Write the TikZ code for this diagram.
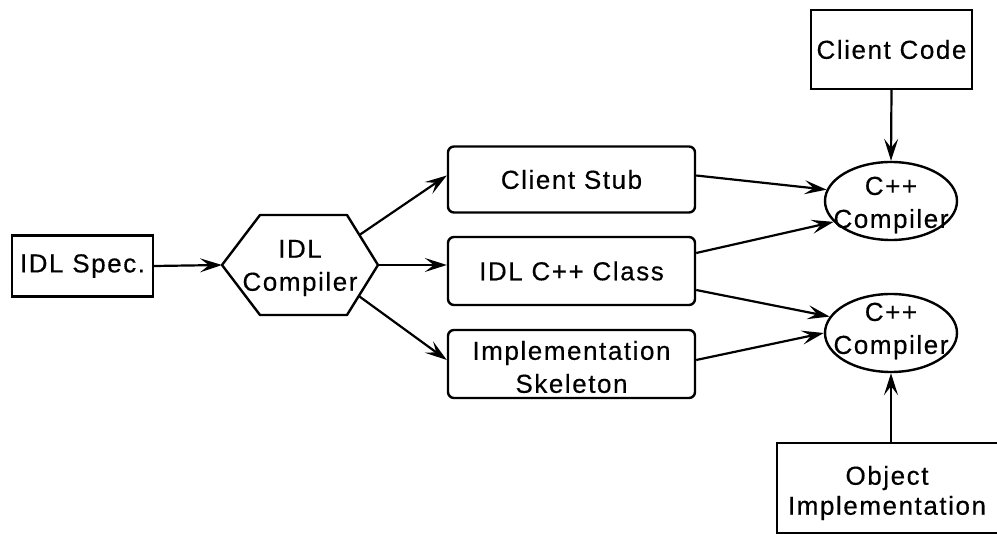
\documentclass[tikz,border=0pt]{standalone}
\usepackage{fontspec}
\newfontfamily\diagfont[LetterSpace=6,FakeBold=0.4]{Liberation Sans}
\usetikzlibrary{shapes.geometric,arrows.meta,calc}

\begin{document}
\begin{tikzpicture}[x=1pt,y=-1pt,
  lab/.style={font=\diagfont\fontsize{26}{33}\selectfont, align=center, inner sep=0pt},
  box/.style={draw, line width=2.4pt, inner sep=0pt, lab},
  rbox/.style={box, rounded corners=6pt, minimum width=247pt},
  oval/.style={draw, ellipse, line width=2.4pt, inner sep=0pt,
               minimum width=132pt, minimum height=78pt},
  arr/.style={line width=2.2pt, -{Stealth[length=22pt,width=14pt,inset=9pt]}},
]
\useasboundingbox (0,0) rectangle (997,534);
\clip (0,0) rectangle (997,534);

% input specification
\node[box, minimum width=141pt, minimum height=61pt] (spec) at (82.5,266) {IDL Spec.};

% IDL compiler hexagon
\coordinate (hw)  at (222,265);
\coordinate (hnw) at (260,215);
\coordinate (hne) at (347,215);
\coordinate (he)  at (378,265);
\coordinate (hse) at (347,315);
\coordinate (hsw) at (260,315);
\draw[line width=2.4pt, line join=round] (hw) -- (hnw) -- (hne) -- (he) -- (hse) -- (hsw) -- cycle;
\node[lab] (hex) at (300,268) {IDL\\Compiler};

% generated artefacts
\node[rbox, minimum height=66pt] (stub)  at (571.5,179.5) {Client Stub};
\node[rbox, minimum height=68pt] (class) at (571.5,271) {IDL C++ Class};
\node[rbox, minimum height=68pt] (impl)  at (571.5,364) {};
\node[lab] (implt) at (571.5,367) {Implementation\\Skeleton};

% compilers
\node[oval] (cc1) at (891,201) {};
\node[lab] (cc1t) at (891,205) {C++\\Compiler};
\node[oval] (cc2) at (891,333) {};
\node[lab] (cc2t) at (891,331) {C++\\Compiler};

% user supplied code
\node[box, minimum width=161pt, minimum height=79pt] (ccode) at (891.5,49.5) {Client Code};
\node[box, minimum width=223pt, minimum height=90pt] (obj) at (888.5,488) {};
\node[lab] (objt) at (887,493) {Object\\[-3pt]Implementation};

% connectors
\draw[arr] (spec.east) -- (hw);
\draw[arr] ($(hne)!0.4!(he)$) -- ($(stub.west)+(0,-4)$);
\draw[arr] (he) -- (he -| class.west);
\draw[arr] ($(he)!0.62!(hse)$) -- ($(impl.west)+(0,-4)$);

\draw[arr] ($(stub.east)+(0,-4)$) -- (cc1.170);
\draw[arr] ($(class.east)+(0,-18)$) -- (cc1.200);
\draw[arr] ($(class.east)+(0,19)$) -- (cc2.165);
\draw[arr] ($(impl.east)+(0,-4)$) -- (cc2.180);

\draw[arr] (ccode.south) -- (cc1.north);
\draw[arr] (cc2.south |- obj.north) -- (cc2.south);
\end{tikzpicture}
\end{document}
